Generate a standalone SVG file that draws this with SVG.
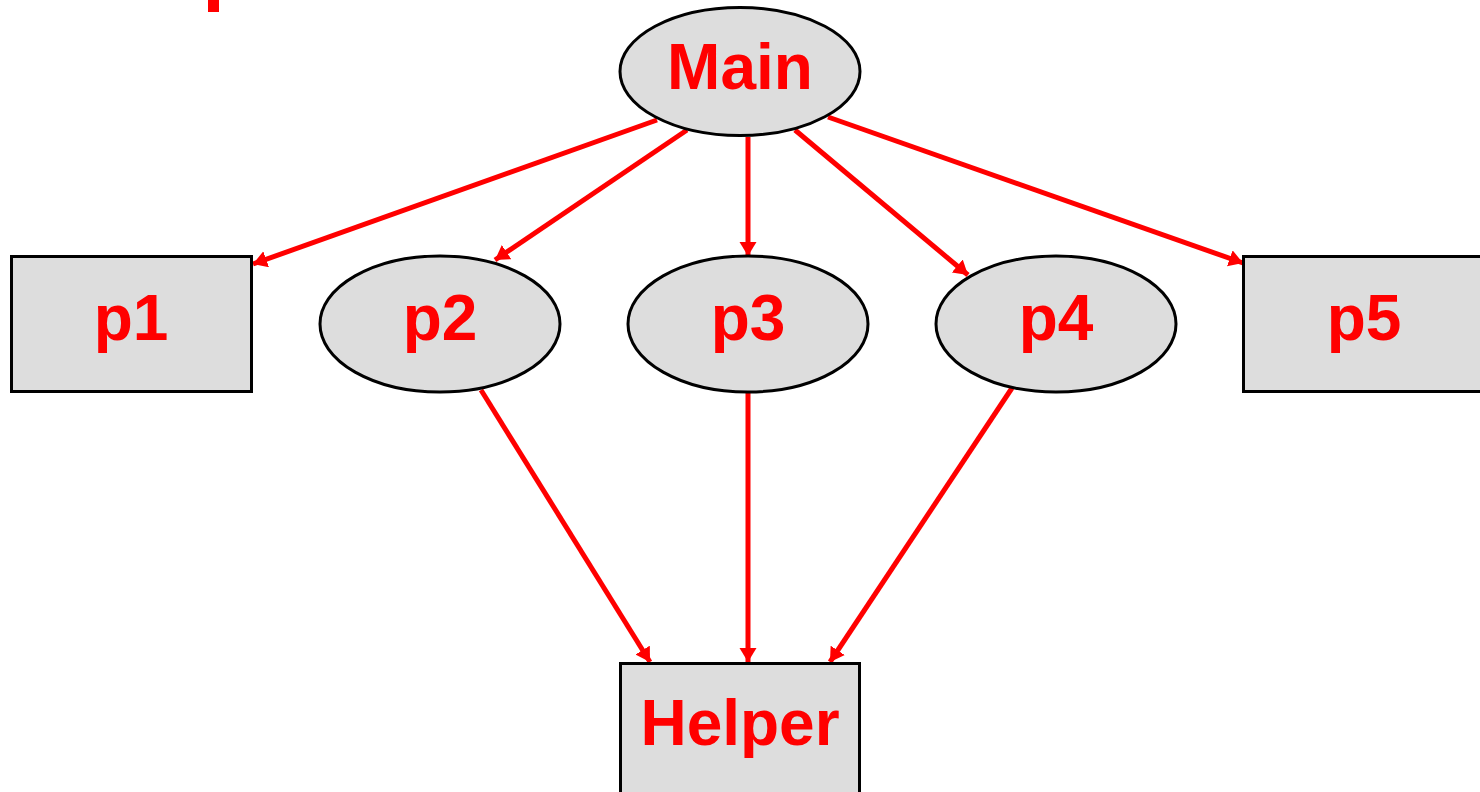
<svg xmlns="http://www.w3.org/2000/svg" width="1480" height="792" viewBox="0 0 1480 792">
<style>
.box{fill:#dddddd;stroke:#000;stroke-width:3}
.lbl{font-family:"Liberation Sans",Arial,sans-serif;font-weight:bold;font-size:64px;fill:#ff0000;text-anchor:middle}
.edge{stroke:#ff0000;stroke-width:5;fill:none}
</style>
<defs>
<marker id="ah" markerUnits="userSpaceOnUse" markerWidth="16" markerHeight="18" refX="14" refY="8.5" orient="auto">
<path d="M0,0 L14,8.5 L0,17 z" fill="#ff0000"/>
</marker>
</defs>
<rect x="208" y="0" width="11" height="12" fill="#ff0000"/>
<g id="connectors">
<line class="edge" x1="657" y1="120" x2="253" y2="264" marker-end="url(#ah)"/>
<line class="edge" x1="687" y1="130" x2="495" y2="260" marker-end="url(#ah)"/>
<line class="edge" x1="748" y1="137" x2="748" y2="256" marker-end="url(#ah)"/>
<line class="edge" x1="795" y1="130" x2="968" y2="275" marker-end="url(#ah)"/>
<line class="edge" x1="828" y1="117" x2="1243" y2="263" marker-end="url(#ah)"/>
<line class="edge" x1="481" y1="390" x2="650" y2="662" marker-end="url(#ah)"/>
<line class="edge" x1="748" y1="392" x2="748" y2="662" marker-end="url(#ah)"/>
<line class="edge" x1="1012" y1="388" x2="830" y2="662" marker-end="url(#ah)"/>
</g>
<g id="main">
<ellipse class="box" cx="740" cy="71.5" rx="120" ry="64"/>
<text class="lbl" x="740" y="89">Main</text>
</g>
<g id="p1">
<rect class="box" x="11.5" y="256.5" width="240" height="135"/>
<text class="lbl" x="131" y="340">p1</text>
</g>
<g id="p2">
<ellipse class="box" cx="440" cy="324" rx="120" ry="68"/>
<text class="lbl" x="440" y="340">p2</text>
</g>
<g id="p3">
<ellipse class="box" cx="748" cy="324" rx="120" ry="68"/>
<text class="lbl" x="748" y="340">p3</text>
</g>
<g id="p4">
<ellipse class="box" cx="1056" cy="324" rx="120" ry="68"/>
<text class="lbl" x="1056" y="340">p4</text>
</g>
<g id="p5">
<rect class="box" x="1243.5" y="256.5" width="240" height="135"/>
<text class="lbl" x="1364" y="340">p5</text>
</g>
<g id="helper">
<rect class="box" x="620.5" y="663.5" width="239" height="135"/>
<text class="lbl" x="740" y="745">Helper</text>
</g>
</svg>
